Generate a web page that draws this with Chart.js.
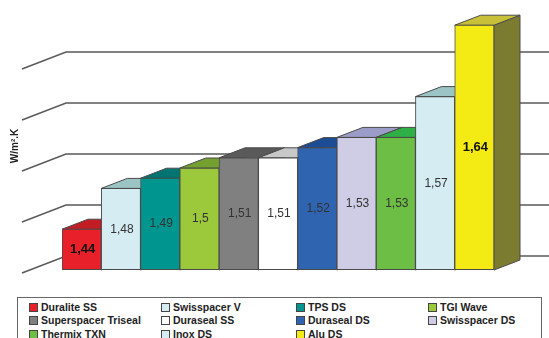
<!DOCTYPE html>
<html>
<head>
<meta charset="utf-8">
<script src="https://cdn.jsdelivr.net/npm/chart.js@4"></script>
<style>
  body { margin: 0; background: #fff; }
  #wrap { position: relative; width: 549px; height: 338px; overflow: hidden; }
  #legend { position: absolute; left: 17px; top: 297px; width: 525px; height: 60px;
            border: 1.5px solid #666; box-sizing: border-box; background: #fff;
            font: bold 10.5px "Liberation Sans", Arial, sans-serif; color: #222; }
  .item { position: absolute; white-space: nowrap; line-height: 12px; }
  .sw { display: inline-block; width: 7px; height: 7px; border: 1px solid #444;
        margin-right: 3px; vertical-align: -1px; }
</style>
</head>
<body>
<div id="wrap">
  <canvas id="myChart" width="549" height="338"></canvas>
  <div id="legend"></div>
</div>
<script>
var labels = ['Duralite SS', 'Swisspacer V', 'TPS DS', 'TGI Wave', 'Superspacer Triseal',
              'Duraseal SS', 'Duraseal DS', 'Swisspacer DS', 'Thermix TXN', 'Inox DS', 'Alu DS'];
var values = [1.44, 1.48, 1.49, 1.5, 1.51, 1.51, 1.52, 1.53, 1.53, 1.57, 1.64];
var frontColors = ['#e8202a', '#d4ecf2', '#009690', '#9cc83c', '#808080', '#ffffff',
                   '#2e64b0', '#cfcce6', '#6cbe44', '#d4ecf2', '#f5eb14'];
var topColors = ['#c21c24', '#9cc4c4', '#007470', '#74a030', '#5a5a5a', '#c8c8c8',
                 '#1c4c94', '#9c9cc8', '#2eb046', '#9cc4c4', '#c8c038'];
var sideColors = ['#901418', '#8ab0b4', '#005a56', '#5a7c24', '#484848', '#a8a8a8',
                  '#163c74', '#8080a8', '#248c36', '#8ab0b4', '#7c7c30'];
var gridValues = [1.40, 1.45, 1.50, 1.55, 1.60];
var boldLabels = [0, 10];

// legend in a 4 column grid like the original
var legendBox = document.getElementById('legend');
var colX = [11, 143, 278, 410];
var rowY = [3, 16, 30];
labels.forEach(function (name, i) {
    var item = document.createElement('div');
    item.className = 'item';
    item.style.left = colX[i % 4] + 'px';
    item.style.top = rowY[Math.floor(i / 4)] + 'px';
    item.innerHTML = '<span class="sw" style="background:' + frontColors[i] + '"></span>' + name;
    legendBox.appendChild(item);
});

var depthX = 26, depthY = 10; // bar depth

const bar3d = {
    id: 'bar3d',
    beforeDatasetsDraw(chart) {
        var ctx = chart.ctx;
        var yScale = chart.scales.y;
        ctx.save();
        // walls: diagonal side lines + back wall lines
        ctx.strokeStyle = '#5a5a5a';
        ctx.lineWidth = 1.5;
        gridValues.forEach(function (v) {
            var py = yScale.getPixelForValue(v);
            ctx.beginPath();
            ctx.moveTo(22, py + 3);
            ctx.lineTo(66, py - 14);
            ctx.lineTo(chart.width, py - 14);
            ctx.stroke();
        });

        // axis title
        ctx.save();
        ctx.translate(15, 146);
        ctx.rotate(-Math.PI / 2);
        ctx.font = 'bold 10px "Liberation Sans", Arial, sans-serif';
        ctx.fillStyle = '#222';
        ctx.textAlign = 'center';
        ctx.textBaseline = 'middle';
        ctx.fillText('W/m\u00B2.K', 0, 0);
        ctx.restore();

        // top and side faces, fronts are drawn by chart.js on top
        var meta = chart.getDatasetMeta(0);
        var floor = chart.chartArea.bottom;
        ctx.strokeStyle = '#4a4a4a';
        ctx.lineWidth = 1;
        meta.data.forEach(function (bar, i) {
            var l = bar.x - bar.width / 2, r = bar.x + bar.width / 2;
            var t = bar.y, b = Math.min(bar.base, floor);
            ctx.fillStyle = sideColors[i];
            ctx.beginPath();
            ctx.moveTo(r, t);
            ctx.lineTo(r + depthX, t - depthY);
            ctx.lineTo(r + depthX, b - depthY);
            ctx.lineTo(r, b);
            ctx.closePath();
            ctx.fill();
            ctx.stroke();
            ctx.fillStyle = topColors[i];
            ctx.beginPath();
            ctx.moveTo(l, t);
            ctx.lineTo(l + depthX, t - depthY);
            ctx.lineTo(r + depthX, t - depthY);
            ctx.lineTo(r, t);
            ctx.closePath();
            ctx.fill();
            ctx.stroke();
        });
        ctx.restore();
    },
    afterDatasetsDraw(chart) {
        var ctx = chart.ctx;
        var meta = chart.getDatasetMeta(0);
        var floor = chart.chartArea.bottom;
        ctx.save();
        // bottom edge of the fronts (chart.js clips it)
        ctx.strokeStyle = '#4a4a4a';
        ctx.lineWidth = 1;
        ctx.beginPath();
        ctx.moveTo(chart.chartArea.left, floor - 0.5);
        ctx.lineTo(chart.chartArea.right, floor - 0.5);
        ctx.stroke();
        ctx.textAlign = 'center';
        ctx.textBaseline = 'middle';
        meta.data.forEach(function (bar, i) {
            var bold = boldLabels.indexOf(i) >= 0;
            ctx.font = (bold ? 'bold 13px' : '12px') + ' "Liberation Sans", Arial, sans-serif';
            ctx.fillStyle = bold ? '#111' : '#333';
            ctx.fillText(String(values[i]).replace('.', ','), bar.x + 1, (bar.y + floor) / 2);
        });
        ctx.restore();
    }
};

const ctx = document.getElementById('myChart').getContext('2d');
const myChart = new Chart(ctx, {
    type: 'bar',
    data: {
        labels: labels,
        datasets: [{
            data: values,
            backgroundColor: frontColors,
            borderColor: '#4a4a4a',
            borderWidth: 1,
            borderSkipped: false,
            barPercentage: 1,
            categoryPercentage: 1
        }]
    },
    options: {
        responsive: false,
        animation: false,
        layout: { padding: { left: 62, right: 55, top: 15, bottom: 68 } },
        plugins: { legend: { display: false }, tooltip: { enabled: false } },
        scales: {
            x: { display: false },
            y: { display: false, min: 1.40, max: 1.65 }
        }
    },
    plugins: [bar3d]
});
</script>
</body>
</html>
